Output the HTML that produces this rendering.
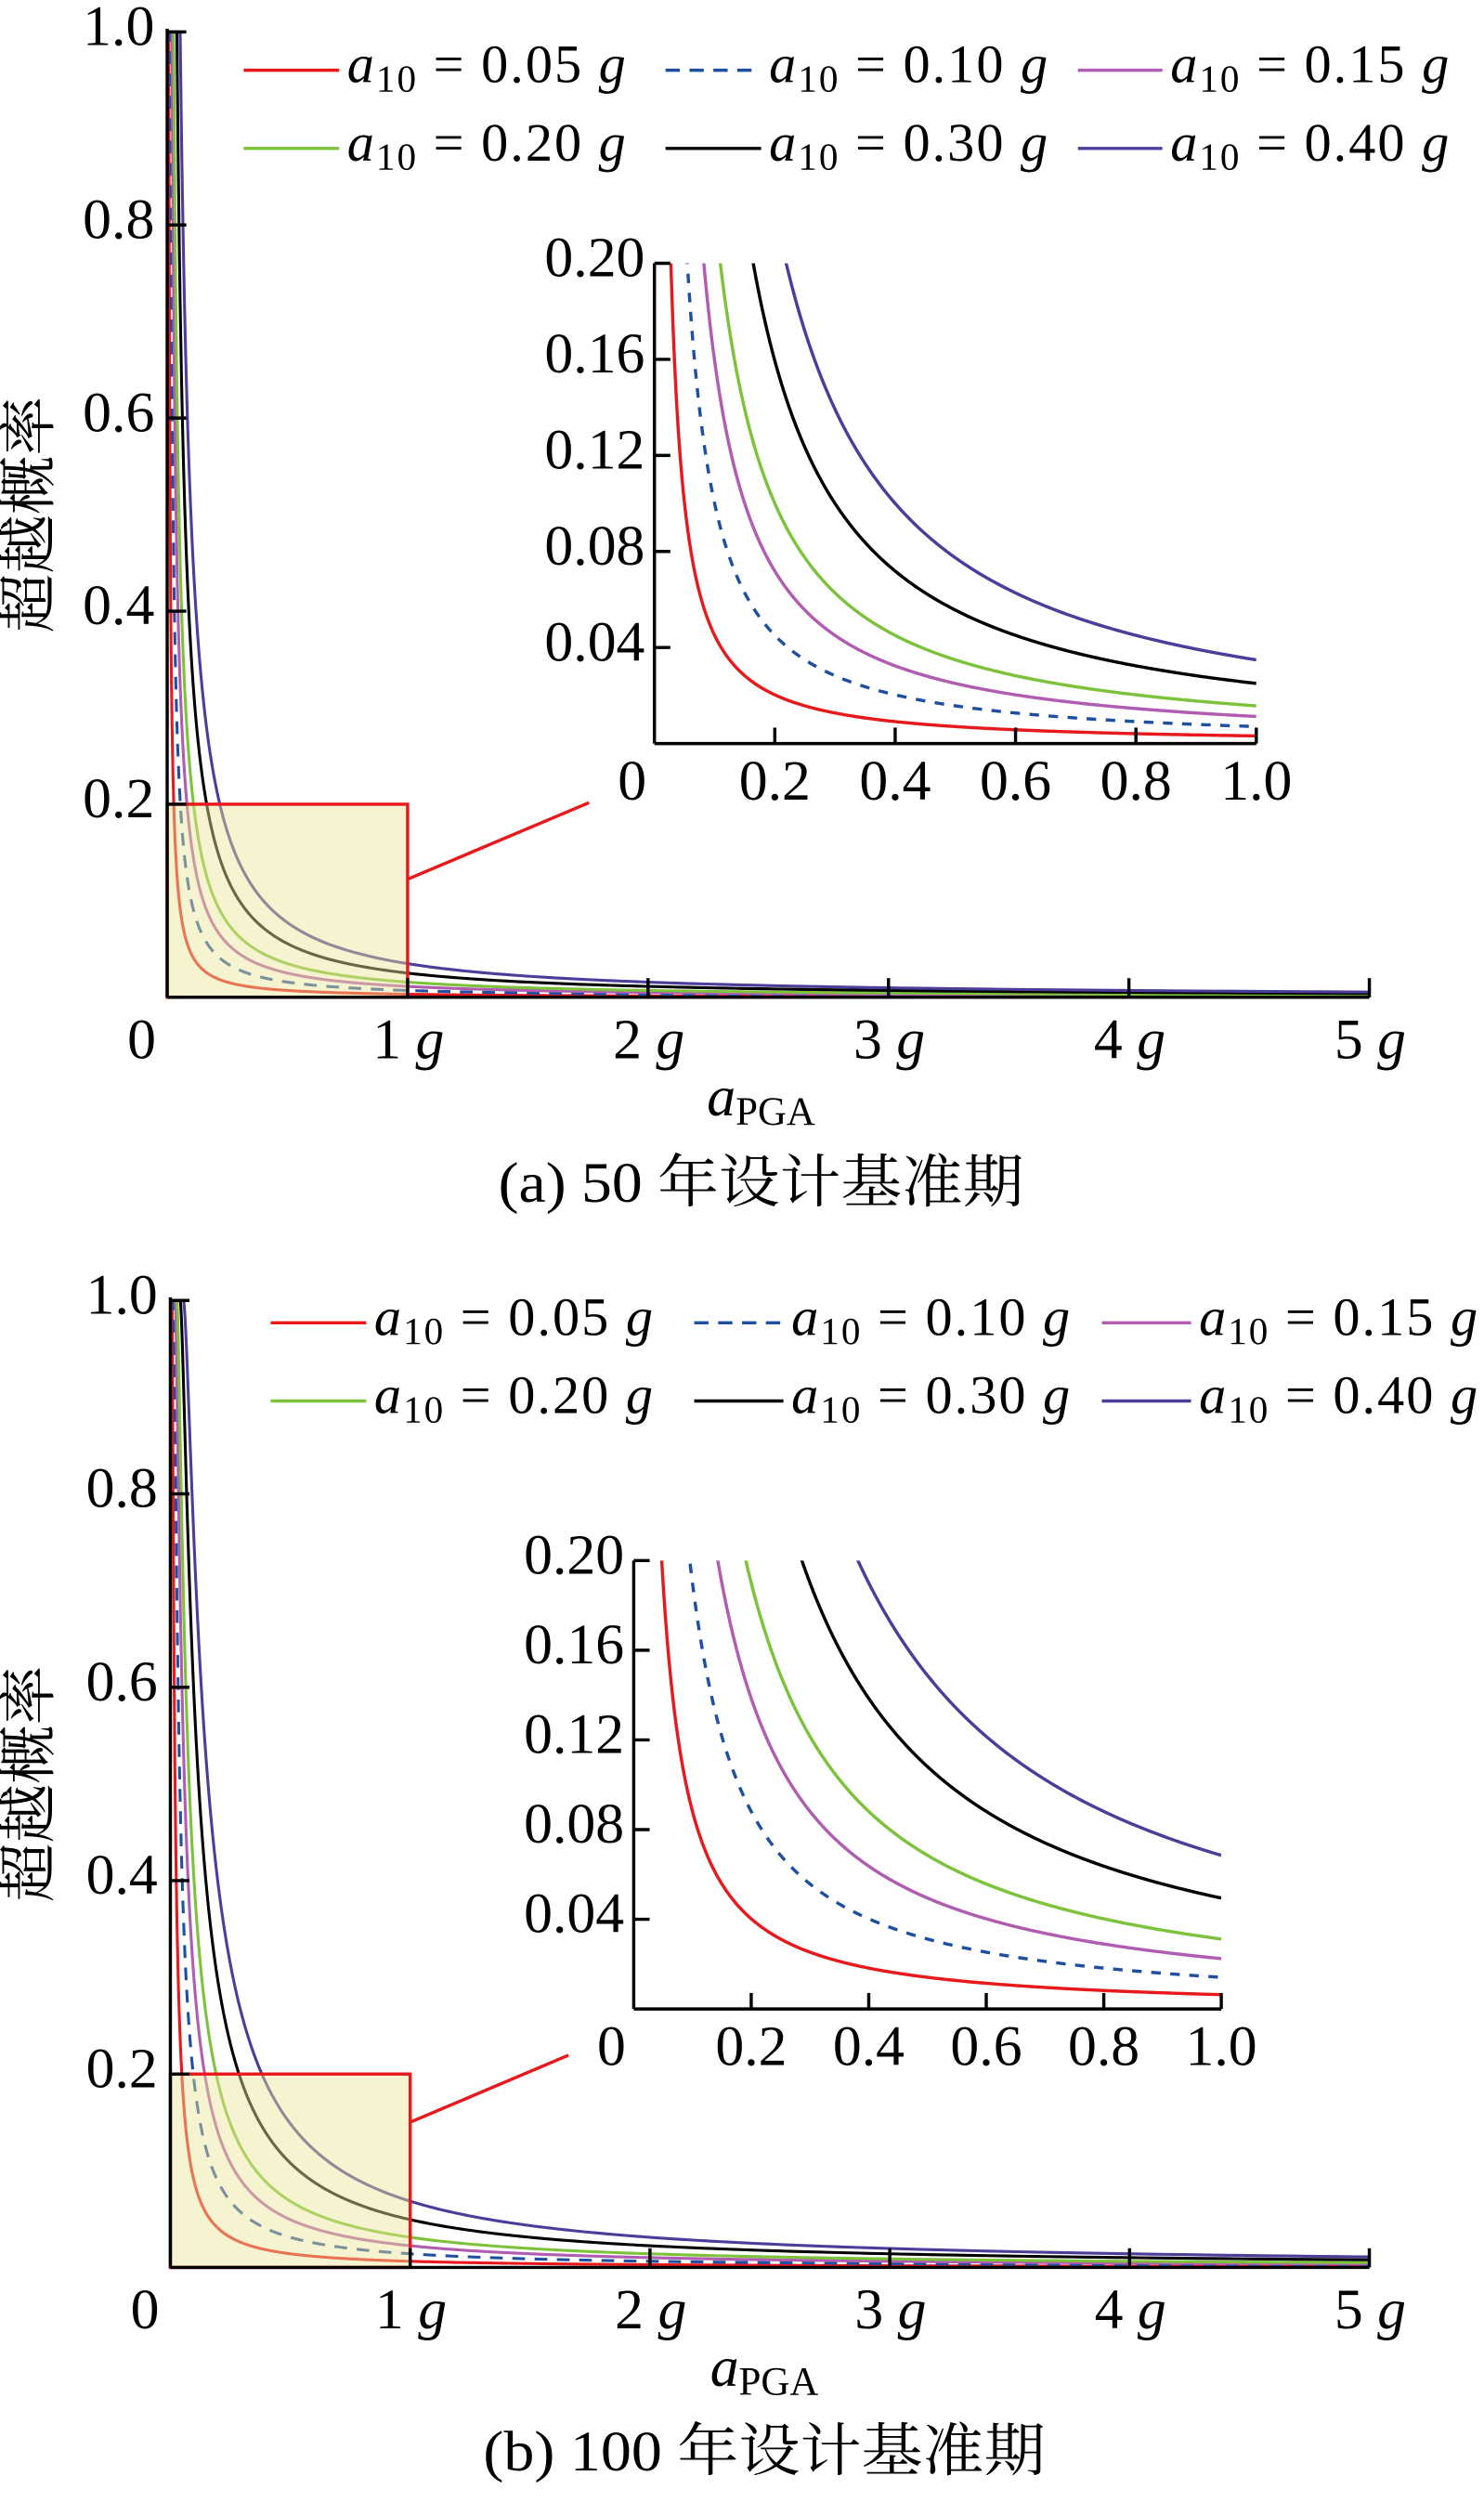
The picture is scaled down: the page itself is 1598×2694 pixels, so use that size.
<!DOCTYPE html>
<html><head><meta charset="utf-8">
<style>
html,body{margin:0;padding:0;background:#fff;}
svg{display:block;}
text{font-family:"Liberation Serif","Noto Serif CJK SC",serif;fill:#000;}
</style></head>
<body>
<svg id="s" width="1598" height="2694" viewBox="0 0 932 1568" preserveAspectRatio="none" xmlns="http://www.w3.org/2000/svg"></svg>
<script>
const S=document.getElementById('s');
let h='';
const cols=['#e8191c','#1f4fa0','#b05cb0','#7cc23a','#000000','#4b3d99'];
const a10s=[0.05,0.10,0.15,0.20,0.30,0.40];
const names=['0.05','0.10','0.15','0.20','0.30','0.40'];
function P(a,a10,yrs){let p=0.1*Math.pow(a/a10,-1.15);if(p>1)p=1;if(yrs==100)p=1-(1-p)*(1-p);return p;}
function path(fx,fy,a10,yrs,amin,amax){let d='';let n=600;for(let i=0;i<=n;i++){let a=amin*Math.pow(amax/amin,i/n);let p=P(a,a10,yrs);d+=(i?'L':'M')+fx(a).toFixed(2)+','+fy(p).toFixed(2);}return d;}
function lt(x,y,t,anchor,size,extra){return `<text x="${x}" y="${y}" font-size="${size||36}" text-anchor="${anchor||'start'}" dominant-baseline="middle" ${extra||''}>${t}</text>`;}
function legItem(x1,x2,y,i){let dash=i==1?' stroke-dasharray="9,6"':'';
 return `<line x1="${x1}" y1="${y}" x2="${x2}" y2="${y}" stroke="${cols[i]}" stroke-width="2"${dash}/>`+
 `<text x="${x2+5}" y="${y}" font-size="34" dominant-baseline="middle" textLength="175" lengthAdjust="spacing"><tspan font-style="italic">a</tspan><tspan font-size="24" dy="8">10</tspan><tspan dy="-8"> = ${names[i]} </tspan><tspan font-style="italic">g</tspan></text>`;}
function panel(o){
 const {X0,Y0,Y1,Xg,yrs,ins,leg,cap,cy,capw}=o;
 const fx=a=>X0+a*Xg, fy=p=>Y0-(Y0-Y1)*p;
 let g='';
 g+=`<defs><clipPath id="c${yrs}"><rect x="${X0}" y="${Y1-2}" width="${5*Xg+2}" height="${Y0-Y1+2}"/></clipPath><clipPath id="i${yrs}"><rect x="${ins.x0}" y="${ins.y1}" width="${ins.x1-ins.x0}" height="${ins.y0-ins.y1}"/></clipPath></defs>`;
 g+=`<g clip-path="url(#c${yrs})">`;
 for(let i=0;i<6;i++){g+=`<path d="${path(fx,fy,a10s[i],yrs,0.001,5)}" fill="none" stroke="${cols[i]}" stroke-width="1.8"${i==1?' stroke-dasharray="8,6"':''}/>`;}
 g+='</g>';
 const rx=fx(1),ry=fy(0.2);
 g+=`<rect x="${X0}" y="${ry}" width="${rx-X0}" height="${Y0-ry}" fill="rgb(235,228,150)" fill-opacity="0.45" stroke="#e8191c" stroke-width="2"/>`;
 g+=`<line x1="${rx}" y1="${o.l1[0]}" x2="${o.l1[1]}" y2="${o.l1[2]}" stroke="#e8191c" stroke-width="2"/>`;
 g+=`<line x1="${X0}" y1="${Y1-2}" x2="${X0}" y2="${Y0}" stroke="#000" stroke-width="2"/><line x1="${X0}" y1="${Y0}" x2="${fx(5)}" y2="${Y0}" stroke="#000" stroke-width="2"/>`;
 for(let k=1;k<=5;k++){let y=fy(k*0.2);g+=`<line x1="${X0}" y1="${y}" x2="${X0+12}" y2="${y}" stroke="#000" stroke-width="2"/>`;g+=lt(X0-8,y,(k*0.2).toFixed(1),'end');}
 for(let k=1;k<=5;k++){let x=fx(k);g+=`<line x1="${x}" y1="${Y0}" x2="${x}" y2="${Y0-12}" stroke="#000" stroke-width="2"/>`;
  g+=`<text x="${x-22}" y="${Y0+30}" font-size="36" dominant-baseline="middle">${k} <tspan font-style="italic">g</tspan></text>`;}
 g+=lt(X0-16,Y0+30,'0','middle');
 g+=`<text x="${X0+373}" y="${Y0+66}" font-size="36" text-anchor="middle" dominant-baseline="middle"><tspan font-style="italic">a</tspan><tspan font-size="25" dy="8">PGA</tspan></text>`;
 g+=lt(X0+373,cy,cap,'middle',36,`textLength="${capw}" lengthAdjust="spacingAndGlyphs"`);
 g+=`<text transform="translate(22,${(Y0+Y1)/2}) rotate(-90)" font-size="37" text-anchor="middle" dominant-baseline="middle">超越概率</text>`;
 const ix=a=>ins.x0+a*(ins.x1-ins.x0), iy=p=>ins.y0-(ins.y0-ins.y1)*p/0.2;
 g+=`<g clip-path="url(#i${yrs})">`;
 for(let i=0;i<6;i++){g+=`<path d="${path(ix,iy,a10s[i],yrs,0.01,1)}" fill="none" stroke="${cols[i]}" stroke-width="2"${i==1?' stroke-dasharray="6,6"':''}/>`;}
 g+='</g>';
 g+=`<line x1="${ins.x0}" y1="${ins.y1}" x2="${ins.x0}" y2="${ins.y0}" stroke="#000" stroke-width="2"/><line x1="${ins.x0}" y1="${ins.y0}" x2="${ins.x1}" y2="${ins.y0}" stroke="#000" stroke-width="2"/>`;
 for(let k=1;k<=5;k++){let p=k*0.04,y=iy(p);g+=`<line x1="${ins.x0}" y1="${y}" x2="${ins.x0+10}" y2="${y}" stroke="#000" stroke-width="2"/>`;g+=lt(ins.x0-6,y,p.toFixed(2),'end');}
 for(let k=1;k<=5;k++){let a=k*0.2,x=ix(a);g+=`<line x1="${x}" y1="${ins.y0}" x2="${x}" y2="${ins.y0-10}" stroke="#000" stroke-width="2"/>`;g+=lt(x,ins.y0+27,a.toFixed(1),'middle');}
 g+=lt(ins.x0-14,ins.y0+27,'0','middle');
 for(let i=0;i<6;i++){let c=i%3,r=Math.floor(i/3);g+=legItem(leg.x[c][0],leg.x[c][1],leg.y[r],i);}
 return g;
}
h+=panel({X0:105,Y0:625,Y1:20,Xg:151,yrs:50,
 ins:{x0:411,x1:789,y0:466,y1:165},l1:[551,370,503],
 leg:{x:[[153,213],[418,478],[677,730]],y:[44,93]},cap:'(a) 50 年设计基准期',cy:745,capw:330});
h+=panel({X0:107,Y0:1421,Y1:815,Xg:150.6,yrs:100,
 ins:{x0:398,x1:767,y0:1259,y1:978},l1:[1330,357,1288],
 leg:{x:[[170,230],[436,492],[692,748]],y:[829,878]},cap:'(b) 100 年设计基准期',cy:1540,capw:353});
S.innerHTML=h;
</script>
</body></html>
